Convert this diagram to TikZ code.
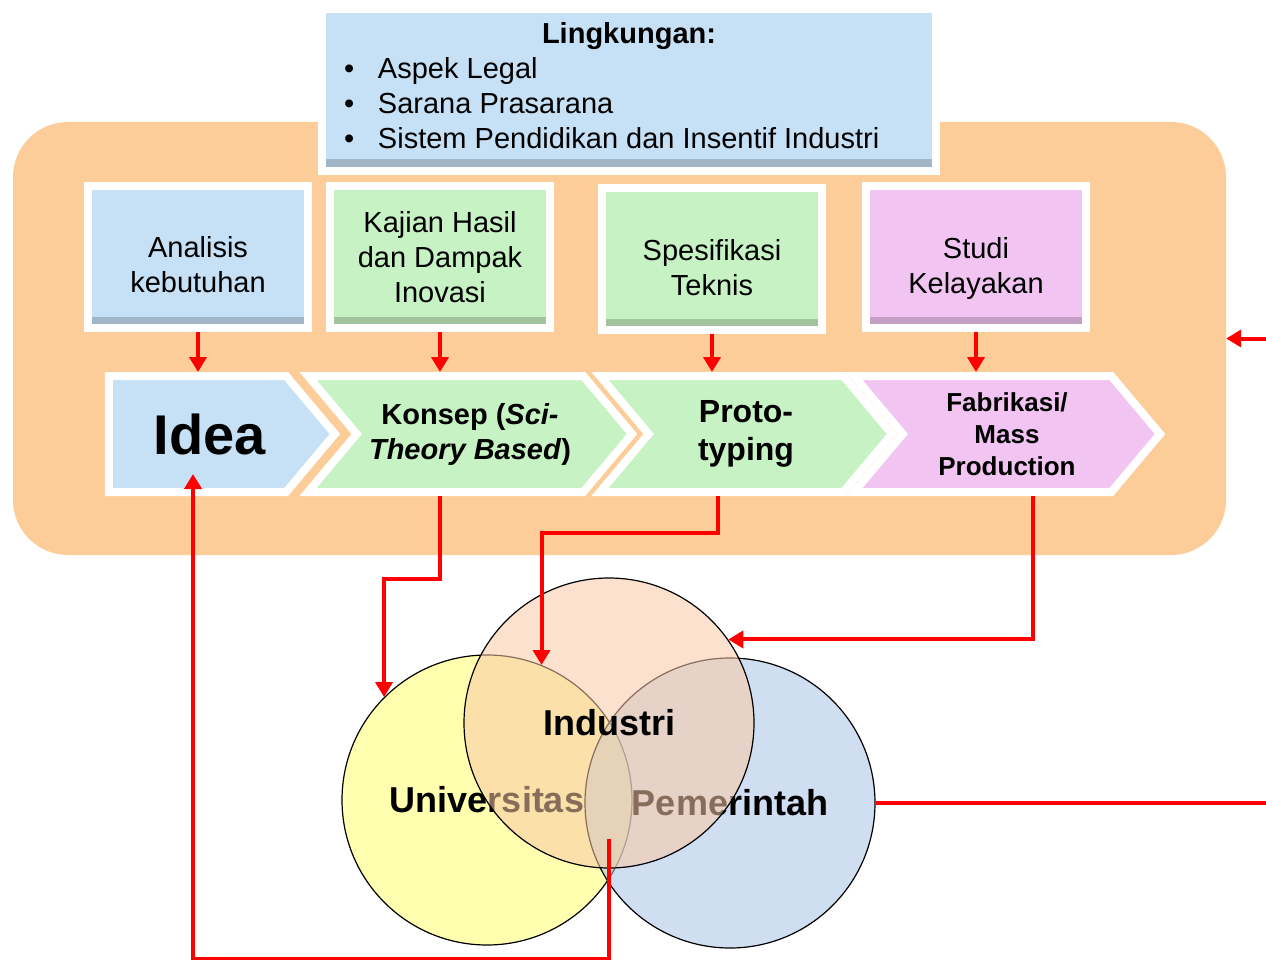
\documentclass[tikz,border=0pt]{standalone}
\usepackage{fontspec}
\setmainfont{Liberation Sans}
\usepackage{tikz}
\usetikzlibrary{shapes.symbols,arrows.meta}
\definecolor{bgorange}{RGB}{253,205,153}
\definecolor{boxblue}{RGB}{198,224,245}
\definecolor{boxgreen}{RGB}{199,242,196}
\definecolor{boxpink}{RGB}{242,196,242}
\definecolor{venyellow}{RGB}{255,255,110}
\definecolor{venpeach}{RGB}{248,200,165}
\definecolor{venblue}{RGB}{170,195,230}
\newcommand{\bul}{\makebox[44pt][l]{\hspace{10pt}\textbullet}}

\begin{document}
\begin{tikzpicture}[x=1pt,y=-1pt,
  txt/.style={font=\fontsize{29}{35}\selectfont,align=center},
  tbox/.style={txt,draw=white,line width=8pt,fill=#1,minimum width=220pt,minimum height=142pt,inner sep=0pt,
    path picture={\shade[top color=#1,bottom color=#1!80!black] (path picture bounding box.south west) rectangle ([yshift=11pt]path picture bounding box.south east);}},
  chev/.style={signal,signal pointer angle=100,draw=white,line width=8pt,fill=#1,minimum height=116pt,inner sep=0pt,align=center},
  venn/.style={circle,draw=black,line width=1.2pt,fill=#1,fill opacity=0.55,text opacity=1,minimum size=290pt,inner sep=0pt,font=\bfseries\fontsize{36}{40}\selectfont},
  redarr/.style={draw=red,line width=4pt,-{Triangle[length=15pt,width=17pt]}}]
\useasboundingbox (0,0) rectangle (1266,960);
\clip (0,0) rectangle (1266,960);
% background
\node[rectangle,fill=bgorange,rounded corners=55pt,minimum width=1213pt,minimum height=433pt] (proc) at (619.5,338.5) {};
\node[tbox=boxblue,minimum width=614pt,minimum height=162pt] (env) at (629,90) {\begin{minipage}{590pt}
\centering\textbf{Lingkungan:}\par
\raggedright
\bul Aspek Legal\par
\bul Sarana Prasarana\par
\bul Sistem Pendidikan dan Insentif Industri\vspace{8pt}
\end{minipage}};
% input boxes
\node[tbox=boxblue,label={[txt,yshift=-8pt]center:Analisis\\kebutuhan}] (ana) at (198,257) {};
\node[tbox=boxgreen,label={[txt]center:Kajian Hasil\\dan Dampak\\Inovasi}] (kaj) at (440,257) {};
\node[tbox=boxgreen,label={[txt,yshift=-9pt]center:Spesifikasi\\Teknis}] (spe) at (712,259) {};
\node[tbox=boxpink,label={[txt,yshift=-12pt]center:Studi\\Kelayakan}] (stu) at (976,257) {};
% process chevrons
\node[chev=boxblue,minimum width=226pt,font=\bfseries\fontsize{56}{60}\selectfont] (idea) at (197.5,434) {\hspace*{24pt}Idea};
\node[chev=boxgreen,signal from=west,minimum width=324pt,font=\bfseries\fontsize{29}{35}\selectfont] (konsep) at (470,434) {Konsep (\textit{Sci-}\\\textit{Theory Based})};
\node[chev=boxgreen,signal from=west,minimum width=292pt,font=\bfseries\fontsize{32}{38}\selectfont] (proto) at (746,434) {Proto-\\typing};
\node[chev=boxpink,signal from=west,minimum width=306pt,font=\bfseries\fontsize{26}{32}\selectfont] (fab) at (1007,434) {Fabrikasi/\\Mass\\Production};
% triple helix
\node[venn=venyellow] (uni) at (487,800) {Universitas};
\node[venn=venblue] (pem) at (730,803) {Pemerintah};
\node[venn=venpeach] (ind) at (609,723) {Industri};
% connectors
\foreach \a/\b in {ana/idea,kaj/konsep,spe/proto,stu/fab}
  \draw[redarr] (\a.south) -- (\a.south |- \b.north);
\draw[redarr] (kaj.south |- konsep.south) -- ++(0,83) -| (uni.135);
\draw[redarr] ([xshift=6pt]spe.south |- proto.south) -- ++(0,37) -| (uni.68);
\draw[redarr] ([xshift=26pt]fab.south) |- (ind.35);
\coordinate (off) at (1285,803);
\draw[redarr] (pem.east) -- (off) |- (proc.east);
\draw[redarr] ([yshift=30pt]ind.south) -- ++(0,120) -| ([xshift=-5pt,yshift=22pt]ana.south |- idea.south);
\end{tikzpicture}
\end{document}
